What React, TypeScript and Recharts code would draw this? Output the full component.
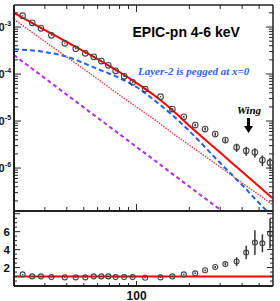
import React from "react";
import { ComposedChart, Line, Scatter, XAxis, YAxis, ErrorBar, ReferenceLine } from "recharts";

// radial bins (x) with surface brightness and data/model ratio
const radius = [22.4, 25.4, 28.5, 32.7, 39, 45, 51, 57, 63, 69, 76, 85, 95, 112, 137, 160, 186, 216, 246, 281, 321, 372, 422, 473, 522, 577];
const brightness = [1.74e-3, 1.23e-3, 9.4e-4, 6.66e-4, 4.5e-4, 3.45e-4, 2.76e-4, 2.33e-4, 1.89e-4, 1.53e-4, 1.17e-4, 8.93e-5, 6.65e-5, 4.8e-5, 3.29e-5, 1.8e-5, 1.23e-5, 8.22e-6, 6.76e-6, 5.29e-6, 3.94e-6, 2.76e-6, 2.33e-6, 2.16e-6, 1.48e-6, 1.3e-6];
const brightnessErr = [4e-5, 3e-5, 2e-5, 1.5e-5, 1e-5, 8e-6, 6e-6, 5e-6, 4e-6, 3.5e-6, 3e-6, 2.5e-6, 2e-6, 1.5e-6, 1e-6, 6e-7, 5e-7, 5e-7, 5e-7, 4e-7, 3.5e-7, 5.5e-7, 5e-7, 4.8e-7, 3.8e-7, 3.4e-7];
const ratio = [1.24, 1.02, 1.02, 0.94, 0.91, 0.91, 0.91, 1.02, 1.02, 1.02, 0.94, 0.94, 0.94, 0.87, 0.91, 1.02, 1.24, 1.36, 1.7, 2.06, 2.39, 2.67, 3.67, 4.78, 4.7, 5.8];
const ratioErr = [0.05, 0.05, 0.05, 0.05, 0.05, 0.05, 0.05, 0.05, 0.05, 0.05, 0.05, 0.05, 0.05, 0.05, 0.05, 0.06, 0.07, 0.08, 0.1, 0.12, 0.15, 0.48, 0.75, 1.39, 1.0, 1.67];

// model curves
const modelX = [20, 30, 40, 60, 80, 100, 130, 160, 200, 300, 400, 500, 600];
const totalFit = [2.01e-3, 8.63e-4, 4.8e-4, 2.08e-4, 1.1e-4, 6.44e-5, 3.24e-5, 1.71e-5, 7.91e-6, 2.13e-6, 8.34e-7, 4.06e-7, 2.25e-7];
const layer1Fit = [1.46e-3, 4.91e-4, 2.3e-4, 7.83e-5, 3.57e-5, 1.99e-5, 1.0e-5, 5.56e-6, 3.08e-6, 1.05e-6, 4.8e-7, 2.67e-7, 1.63e-7];
const layer2Fit = [3.36e-4, 2.94e-4, 2.33e-4, 1.28e-4, 8.22e-5, 5.29e-5, 2.54e-5, 1.34e-5, 6.12e-6, 1.28e-6, 4.35e-7, 1.8e-7, 9.06e-8];
const coreFit = [2.52e-4, 8.15e-5, 3.63e-5, 1.17e-5, 5.24e-6, 2.81e-6, 1.36e-6, 7.53e-7, 4.04e-7, 1.3e-7, 5.83e-8, 3.2e-8, 1.9e-8];

const xTicks = [30, 40, 50, 60, 70, 80, 90, 100, 200, 300, 400, 500];
const xLabels = [100];
const yDecades = [1e-7, 1e-6, 1e-5, 1e-4, 1e-3];
const yMinorSteps = [1, 2, 3, 4, 5, 6, 7, 8, 9];
const ratioTicks = [0.5, 1, 1.5, 2, 2.5, 3, 3.5, 4, 4.5, 5, 5.5, 6, 6.5, 7, 7.5, 8];
const ratioMajor = [2, 4, 6, 8];
const ratioLabels = [2, 4, 6];

const X_DOMAIN = [20, 600];
const Y_DOMAIN = [1.22e-7, 2.94e-3];
const R_DOMAIN = [-0.05, 8.3];

const AXIS = "#222";
const SANS = "Liberation Sans, Arial, sans-serif";
const SERIF = "Liberation Serif, Times New Roman, serif";

const yTicks = yDecades
  .flatMap((d) => yMinorSteps.map((m) => m * d))
  .filter((v) => v >= Y_DOMAIN[0] && v <= Y_DOMAIN[1]);

const sbData = radius.map((r, i) => ({ r, v: brightness[i], e: brightnessErr[i] }));
const ratioData = radius.map((r, i) => ({ r, v: ratio[i], e: ratioErr[i] }));
const curve = (ys: number[]) => modelX.map((r, i) => ({ r, v: ys[i] }));

const isDecade = (v: number) => {
  const l = Math.log10(v);
  return Math.abs(l - Math.round(l)) < 1e-6;
};

function LogLeftTick(p: any) {
  const { x, y, payload } = p;
  const major = isDecade(payload.value);
  const exp = Math.round(Math.log10(payload.value));
  return (
    <g>
      <line x1={x} x2={x + (major ? 7 : 4)} y1={y} y2={y} stroke={AXIS} strokeWidth={1} />
      {major && (
        <>
          <text x={x - 9.4} y={y + 4} textAnchor="end" fontSize={11} fontWeight="bold" fontFamily={SANS} fill="#111">10</text>
          <text x={x - 9.2} y={y - 1} fontSize={7} fontWeight="bold" fontFamily={SANS} fill="#111">{exp}</text>
        </>
      )}
    </g>
  );
}

function LogRightTick(p: any) {
  const { x, y, payload } = p;
  const len = isDecade(payload.value) ? 7 : 4;
  return <line x1={x - len} x2={x} y1={y} y2={y} stroke={AXIS} strokeWidth={1} />;
}

function RatioLeftTick(p: any) {
  const { x, y, payload } = p;
  const major = ratioMajor.includes(payload.value);
  return (
    <g>
      <line x1={x} x2={x + (major ? 6 : 3)} y1={y} y2={y} stroke={AXIS} strokeWidth={1} />
      {ratioLabels.includes(payload.value) && (
        <text x={x - 4} y={y + 4} textAnchor="end" fontSize={11.5} fontWeight="bold" fontFamily={SANS} fill="#111">
          {payload.value}
        </text>
      )}
    </g>
  );
}

function RatioRightTick(p: any) {
  const { x, y, payload } = p;
  const len = ratioMajor.includes(payload.value) ? 6 : 3;
  return <line x1={x - len} x2={x} y1={y} y2={y} stroke={AXIS} strokeWidth={1} />;
}

function xTick(dir: number, major: number, minor: number, label: boolean) {
  return (p: any) => {
    const { x, y, payload } = p;
    const isMajor = xLabels.includes(payload.value);
    return (
      <g>
        <line x1={x} x2={x} y1={y} y2={y + dir * (isMajor ? major : minor)} stroke={AXIS} strokeWidth={1} />
        {label && isMajor && (
          <text x={x} y={y + 14} textAnchor="middle" fontSize={12} fontWeight="bold" fontFamily={SANS} fill="#111">
            {payload.value}
          </text>
        )}
      </g>
    );
  };
}

function Ring(p: any) {
  return <circle cx={p.cx} cy={p.cy} r={2.8} fill="none" stroke="#444" strokeWidth={1.1} />;
}

function SmallRing(p: any) {
  return <circle cx={p.cx} cy={p.cy} r={2.5} fill="none" stroke="#444" strokeWidth={1.1} />;
}

const axisLine = { stroke: AXIS, strokeWidth: 2 };
const thinLine = { stroke: AXIS, strokeWidth: 1.5 };

export default function App() {
  return (
    <div style={{ position: "fixed", left: 0, top: 0, width: 280, height: 301, background: "#fff" }}>
      <div style={{ position: "absolute", left: 0, top: 0 }}>
        <ComposedChart width={280} height={212} margin={{ top: 4, right: 6, bottom: 0, left: 0 }}>
          <XAxis xAxisId="b" dataKey="r" type="number" scale="log" domain={X_DOMAIN} allowDataOverflow ticks={xTicks} interval={0}
            tickSize={0} tickMargin={0} height={1} axisLine={axisLine} tick={xTick(-1, 7, 4, false)} />
          <XAxis xAxisId="t" orientation="top" dataKey="r" type="number" scale="log" domain={X_DOMAIN} allowDataOverflow ticks={xTicks}
            interval={0} tickSize={0} tickMargin={0} height={1} axisLine={thinLine} tick={xTick(1, 7, 4, false)} />
          <YAxis yAxisId="l" dataKey="v" type="number" scale="log" domain={Y_DOMAIN} allowDataOverflow ticks={yTicks} interval={0}
            width={14} tickSize={0} tickMargin={0} axisLine={axisLine} tick={LogLeftTick} />
          <YAxis yAxisId="r" orientation="right" type="number" scale="log" domain={Y_DOMAIN} allowDataOverflow ticks={yTicks}
            interval={0} width={1} tickSize={0} tickMargin={0} axisLine={thinLine} tick={LogRightTick} />
          <Line xAxisId="b" yAxisId="l" data={curve(coreFit)} dataKey="v" type="monotone" stroke="#b02ee6" strokeWidth={2}
            strokeDasharray="4 3" dot={false} activeDot={false} isAnimationActive={false} />
          <Line xAxisId="b" yAxisId="l" data={curve(layer1Fit)} dataKey="v" type="monotone" stroke="#ff2a2a" strokeWidth={1.3}
            strokeDasharray="1.5 1.2" dot={false} activeDot={false} isAnimationActive={false} />
          <Line xAxisId="b" yAxisId="l" data={curve(layer2Fit)} dataKey="v" type="monotone" stroke="#1f62ee" strokeWidth={2}
            strokeDasharray="5 3" dot={false} activeDot={false} isAnimationActive={false} />
          <Line xAxisId="b" yAxisId="l" data={curve(totalFit)} dataKey="v" type="monotone" stroke="#ff0000" strokeWidth={2}
            dot={false} activeDot={false} isAnimationActive={false} />
          <Scatter xAxisId="b" yAxisId="l" data={sbData} dataKey="v" shape={Ring} isAnimationActive={false}>
            <ErrorBar dataKey="e" direction="y" width={0} stroke="#333" strokeWidth={1.5} />
          </Scatter>
        </ComposedChart>
      </div>
      <div style={{ position: "absolute", left: 0, top: 210 }}>
        <ComposedChart width={280} height={91} margin={{ top: 0, right: 6, bottom: 0, left: 0 }}>
          <XAxis xAxisId="b" dataKey="r" type="number" scale="log" domain={X_DOMAIN} allowDataOverflow ticks={xTicks} interval={0}
            tickSize={0} tickMargin={0} height={15} axisLine={axisLine} tick={xTick(-1, 5, 3, true)} />
          <XAxis xAxisId="t" orientation="top" dataKey="r" type="number" scale="log" domain={X_DOMAIN} allowDataOverflow ticks={xTicks}
            interval={0} tickSize={0} tickMargin={0} height={1} axisLine={axisLine} tick={() => <g />} />
          <YAxis yAxisId="l" dataKey="v" type="number" domain={R_DOMAIN} allowDataOverflow ticks={ratioTicks} interval={0}
            width={14} tickSize={0} tickMargin={0} axisLine={axisLine} tick={RatioLeftTick} />
          <YAxis yAxisId="r" orientation="right" type="number" domain={R_DOMAIN} allowDataOverflow ticks={ratioTicks}
            interval={0} width={1} tickSize={0} tickMargin={0} axisLine={thinLine} tick={RatioRightTick} />
          <ReferenceLine xAxisId="b" yAxisId="l" y={1} stroke="#ff0000" strokeWidth={2} />
          <Scatter xAxisId="b" yAxisId="l" data={ratioData} dataKey="v" shape={SmallRing} isAnimationActive={false}>
            <ErrorBar dataKey="e" direction="y" width={0} stroke="#333" strokeWidth={1.5} />
          </Scatter>
        </ComposedChart>
      </div>
      <svg width={280} height={301} style={{ position: "absolute", left: 0, top: 0, pointerEvents: "none" }}>
        <text x={132.5} y={37} fontSize={14} fontWeight="bold" fontFamily={SANS} fill="#000">EPIC-pn 4-6 keV</text>
        <text x={138} y={75} fontSize={11} fontWeight="bold" fontStyle="italic" fontFamily={SERIF} fill="#2a63f0">
          Layer-2 is pegged at x=0
        </text>
        <text x={237} y={114} fontSize={11} fontWeight="bold" fontStyle="italic" fontFamily={SERIF} fill="#000">Wing</text>
        <rect x={247} y={118} width={3} height={9} fill="#000" />
        <polygon points="244,126 253,126 248.5,133" fill="#000" />
      </svg>
    </div>
  );
}
